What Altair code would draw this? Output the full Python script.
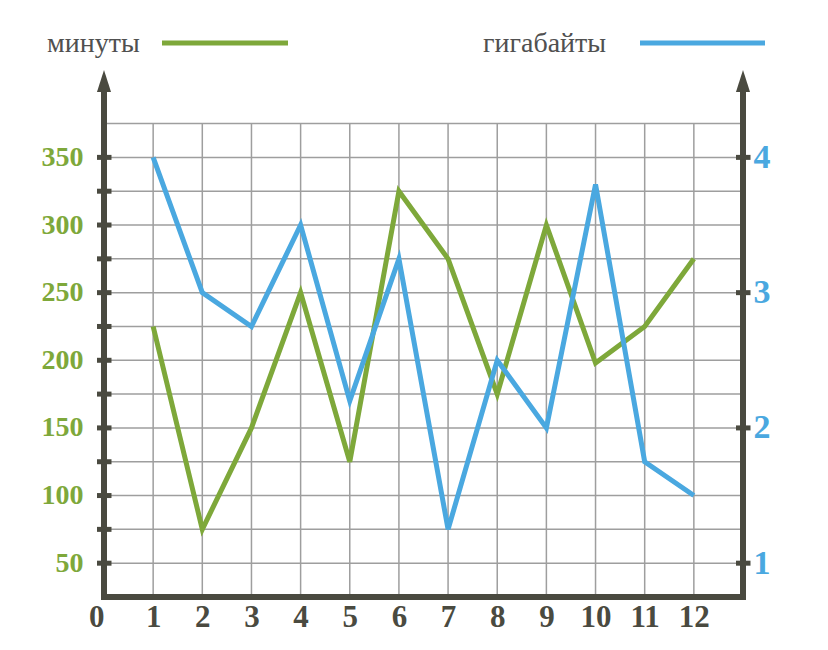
import altair as alt
import pandas as pd

# ---- data ----
months = [1, 2, 3, 4, 5, 6, 7, 8, 9, 10, 11, 12]
minutes = [225, 75, 150, 250, 125, 325, 275, 175, 300, 198, 225, 275]
gigabytes = [4.0, 3.0, 2.75, 3.5, 2.2, 3.25, 1.25, 2.5, 2.0, 3.8, 1.75, 1.5]
x_labels = [0, 1, 2, 3, 4, 5, 6, 7, 8, 9, 10, 11, 12]
min_labels = [50, 100, 150, 200, 250, 300, 350]
min_ticks = [50, 75, 100, 125, 150, 175, 200, 225, 250, 275, 300, 325, 350]
min_grid = [50, 75, 100, 125, 150, 175, 200, 225, 250, 275, 300, 325, 350, 375]
gb_labels = [1, 2, 3, 4]
series_names = ["минуты", "гигабайты"]

# ---- style ----
GREEN = "#7ea83a"
BLUE = "#4aa8e0"
DARK = "#4a4a40"
GRID = "#9e9e9e"
TEXT = "#505050"
FONT = "Liberation Serif, Times New Roman, serif"

W, H = 639, 527
X_DOM = [0, 13]
MIN_DOM = [25, 414.6]
GB_DOM = [0.75, 4.646]

xs = alt.Scale(domain=X_DOM, nice=False, zero=False)
ys = alt.Scale(domain=MIN_DOM, nice=False, zero=False)
gs = alt.Scale(domain=GB_DOM, nice=False, zero=False)

df = pd.DataFrame({"month": months, "minutes": minutes, "gb": gigabytes})

x_axis = alt.Axis(
    values=x_labels, title=None, domain=False, ticks=False, tickSize=0, grid=False,
    labelFont=FONT, labelFontSize=31, labelFontWeight="bold", labelColor=DARK,
    labelPadding=5, labelFlush=False, labelOverlap=False, format="d",
    labelAlign={"condition": {"test": "datum.value == 0", "value": "right"}, "value": "center"},
)
left_axis = alt.Axis(
    orient="left", values=min_labels, title=None, domain=False, ticks=False, tickSize=0,
    grid=False, labelFont=FONT, labelFontSize=28, labelFontWeight="bold",
    labelColor=GREEN, labelPadding=21, labelOverlap=False, format="d",
)
right_axis = alt.Axis(
    orient="right", values=gb_labels, title=None, domain=False, ticks=False, tickSize=0,
    grid=False, labelFont=FONT, labelFontSize=34, labelFontWeight="bold",
    labelColor=BLUE, labelPadding=10, labelOverlap=False, format="d",
)

hgrid = alt.Chart(pd.DataFrame({"v": min_grid})).mark_rule(color=GRID, strokeWidth=1.5).encode(
    y=alt.Y("v:Q", scale=ys),
    x=alt.XDatum(0, scale=xs),
    x2=alt.X2Datum(13),
)
vgrid = alt.Chart(pd.DataFrame({"m": months})).mark_rule(color=GRID, strokeWidth=1.5).encode(
    x=alt.X("m:Q", scale=xs),
    y=alt.YDatum(375, scale=ys),
    y2=alt.Y2Datum(25),
)

axis_pos = pd.DataFrame({"x": [0, 13]})
vaxes = alt.Chart(axis_pos).mark_rule(color=DARK, strokeWidth=6).encode(
    x=alt.X("x:Q", scale=xs),
    y=alt.value(14),
    y2=alt.value(H + 3),
)
haxis = alt.Chart(axis_pos.head(1)).mark_rule(color=DARK, strokeWidth=6).encode(
    y=alt.value(H),
    x=alt.value(-3),
    x2=alt.value(W + 3),
)
arrows = alt.Chart(axis_pos).mark_point(
    shape="M0,-1L0.64,1L-0.64,1Z", filled=True, size=484, color=DARK, opacity=1
).encode(
    x=alt.X("x:Q", scale=xs),
    y=alt.value(11),
)
lticks = alt.Chart(pd.DataFrame({"v": min_ticks})).mark_rule(color=DARK, strokeWidth=5).encode(
    y=alt.Y("v:Q", scale=ys),
    x=alt.value(-7),
    x2=alt.value(7.5),
)
rticks = alt.Chart(pd.DataFrame({"v": gb_labels})).mark_rule(color=DARK, strokeWidth=5).encode(
    y=alt.Y("v:Q", scale=gs),
    x=alt.value(W - 7),
    x2=alt.value(W + 7.5),
)

green_line = alt.Chart(df).mark_line(color=GREEN, strokeWidth=5).encode(
    x=alt.X("month:Q", scale=xs, axis=x_axis),
    y=alt.Y("minutes:Q", scale=ys, axis=left_axis),
)
blue_line = alt.Chart(df).mark_line(color=BLUE, strokeWidth=5).encode(
    x=alt.X("month:Q", scale=xs),
    y=alt.Y("gb:Q", scale=gs, axis=right_axis),
)

leg1 = alt.Chart(pd.DataFrame({"name": [series_names[0]]}))
leg2 = alt.Chart(pd.DataFrame({"name": [series_names[1]]}))
leg_text1 = leg1.mark_text(align="left", baseline="alphabetic", font=FONT, fontSize=28, color=TEXT).encode(
    text="name:N", x=alt.value(-57), y=alt.value(-18)
)
leg_text2 = leg2.mark_text(align="left", baseline="alphabetic", font=FONT, fontSize=28, color=TEXT).encode(
    text="name:N", x=alt.value(379), y=alt.value(-18)
)
leg_line1 = leg1.mark_rule(color=GREEN, strokeWidth=5).encode(
    x=alt.value(58), x2=alt.value(184), y=alt.value(-27)
)
leg_line2 = leg2.mark_rule(color=BLUE, strokeWidth=5).encode(
    x=alt.value(536), x2=alt.value(661), y=alt.value(-27)
)

left = alt.layer(hgrid, vgrid, vaxes, haxis, arrows, lticks, green_line,
                 leg_text1, leg_text2, leg_line1, leg_line2)
right = alt.layer(rticks, blue_line)

chart = alt.layer(left, right).resolve_scale(y="independent").properties(
    width=W,
    height=H,
    autosize=alt.AutoSizeParams(type="none"),
    padding={"left": 96, "top": 62, "right": 70, "bottom": 50},
).configure_view(stroke=None)

chart.save("out.html", embed_options={"renderer": "svg", "actions": False})
